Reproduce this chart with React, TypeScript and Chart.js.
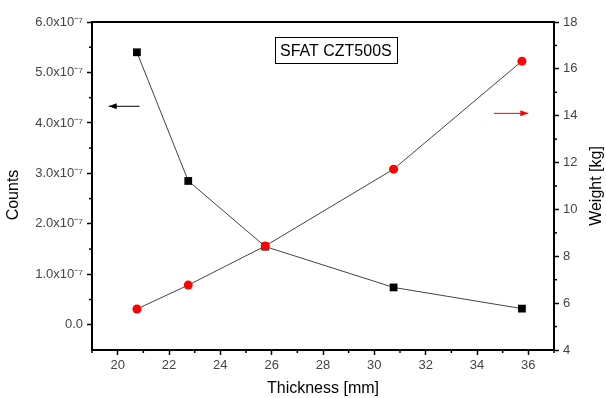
import React, { useEffect, useRef } from "react";
import { Chart, registerables } from "chart.js";

Chart.register(...registerables);

// ---- data ----
const thickness = [20.75, 22.75, 25.75, 30.75, 35.75];
const counts = [5.4e-7, 2.85e-7, 1.55e-7, 0.74e-7, 0.32e-7];
const weight = [5.75, 6.77, 8.44, 11.72, 16.33];

// ---- ticks ----
const xTicks = [20, 22, 24, 26, 28, 30, 32, 34, 36];
const xMinor = [19, 21, 23, 25, 27, 29, 31, 33, 35, 37];
const countTicks = [0, 1e-7, 2e-7, 3e-7, 4e-7, 5e-7, 6e-7];
const countTickLabels = ["0.0", "1.0x10⁻⁷", "2.0x10⁻⁷", "3.0x10⁻⁷", "4.0x10⁻⁷", "5.0x10⁻⁷", "6.0x10⁻⁷"];
const countMinor = [0.5e-7, 1.5e-7, 2.5e-7, 3.5e-7, 4.5e-7, 5.5e-7];
const weightTicks = [4, 6, 8, 10, 12, 14, 16, 18];
const weightMinor = [5, 7, 9, 11, 13, 15, 17];

// ---- text ----
const chartTitle = "SFAT CZT500S";
const xTitle = "Thickness [mm]";
const yLeftTitle = "Counts";
const yRightTitle = "Weight [kg]";

// ---- annotations (data units) ----
const leftArrow = { from: [20.85, 4.33e-7], to: [19.65, 4.33e-7] };
const rightArrow = { from: [34.65, 14.1], to: [36.0, 14.1] };
const titleBoxPos = [28.5, 5.44e-7];

const FONT = '"Liberation Sans", Arial, Helvetica, sans-serif';

const decorPlugin = {
  id: "decor",
  afterDraw(chart: any) {
    const ctx = chart.ctx as CanvasRenderingContext2D;
    const { left, right, top, bottom } = chart.chartArea;
    const xs = chart.scales.x;
    const yl = chart.scales.yCounts;
    const yr = chart.scales.yWeight;
    ctx.save();
    const line = (x1: number, y1: number, x2: number, y2: number) => {
      ctx.beginPath();
      ctx.moveTo(x1, y1);
      ctx.lineTo(x2, y2);
      ctx.stroke();
    };
    // top frame
    ctx.strokeStyle = "#000";
    ctx.lineWidth = 2;
    line(left - 1, top, right + 1, top);
    // minor ticks
    ctx.lineWidth = 1.5;
    xMinor.forEach((v) => {
      const p = xs.getPixelForValue(v);
      line(p, bottom, p, bottom + 3);
    });
    countMinor.forEach((v) => {
      const p = yl.getPixelForValue(v);
      line(left, p, left - 3, p);
    });
    weightMinor.forEach((v) => {
      const p = yr.getPixelForValue(v);
      line(right, p, right + 3, p);
    });

    // arrows
    const arrow = (x1: number, y1: number, x2: number, y2: number, color: string) => {
      ctx.strokeStyle = color;
      ctx.fillStyle = color;
      ctx.lineWidth = 1;
      line(x1, y1, x2, y2);
      const dir = Math.sign(x2 - x1);
      ctx.beginPath();
      ctx.moveTo(x2, y2);
      ctx.lineTo(x2 - dir * 8, y2 - 3);
      ctx.lineTo(x2 - dir * 8, y2 + 3);
      ctx.closePath();
      ctx.fill();
    };
    arrow(
      xs.getPixelForValue(leftArrow.from[0]), yl.getPixelForValue(leftArrow.from[1]),
      xs.getPixelForValue(leftArrow.to[0]), yl.getPixelForValue(leftArrow.to[1]), "#000"
    );
    arrow(
      xs.getPixelForValue(rightArrow.from[0]), yr.getPixelForValue(rightArrow.from[1]),
      xs.getPixelForValue(rightArrow.to[0]), yr.getPixelForValue(rightArrow.to[1]), "#ff0000"
    );

    // title box
    ctx.font = `16px ${FONT}`;
    ctx.textAlign = "center";
    ctx.textBaseline = "middle";
    ctx.fillStyle = "#000";
    const cx = xs.getPixelForValue(titleBoxPos[0]);
    const cy = yl.getPixelForValue(titleBoxPos[1]);
    const w = ctx.measureText(chartTitle).width + 10;
    const h = 26;
    ctx.strokeStyle = "#000";
    ctx.lineWidth = 1;
    ctx.strokeRect(Math.round(cx - w / 2) + 0.5, Math.round(cy - h / 2) + 0.5, Math.round(w), h);
    ctx.fillText(chartTitle, cx, cy + 1);

    // axis titles
    ctx.font = `16px ${FONT}`;
    ctx.fillText(xTitle, (left + right) / 2, 389);
    ctx.save();
    ctx.translate(14, 195);
    ctx.rotate(-Math.PI / 2);
    ctx.fillText(yLeftTitle, 0, 0);
    ctx.restore();
    ctx.save();
    ctx.translate(597, 186);
    ctx.rotate(-Math.PI / 2);
    ctx.fillText(yRightTitle, 0, 0);
    ctx.restore();
    ctx.restore();
  },
};

export default function App() {
  const ref = useRef<HTMLCanvasElement | null>(null);
  useEffect(() => {
    document.body.style.margin = "0";
    const canvas = ref.current!;
    const tickFont = { family: FONT, size: 13 };
    const gridCommon = {
      drawOnChartArea: false,
      drawTicks: true,
      tickLength: 5,
      tickColor: "#000",
      tickWidth: 1.5,
    };
    const chart = new Chart(canvas, {
      type: "scatter",
      data: {
        datasets: [
          {
            label: "Weight",
            data: thickness.map((t, i) => ({ x: t, y: weight[i] })),
            yAxisID: "yWeight",
            showLine: true,
            borderColor: "#444",
            borderWidth: 1,
            pointStyle: "circle",
            pointRadius: 4.5,
            pointBackgroundColor: "#ff0000",
            pointBorderColor: "#ff0000",
            pointBorderWidth: 0,
          },
          {
            label: "Counts",
            data: thickness.map((t, i) => ({ x: t, y: counts[i] })),
            yAxisID: "yCounts",
            showLine: true,
            borderColor: "#444",
            borderWidth: 1,
            pointStyle: "rect",
            pointRadius: 5.5,
            pointBackgroundColor: "#000",
            pointBorderColor: "#000",
            pointBorderWidth: 0,
          },
        ],
      },
      options: {
        animation: false,
        responsive: false,
        layout: { padding: { top: 22, left: 0, right: 0, bottom: 0 } },
        plugins: { legend: { display: false }, tooltip: { enabled: false } },
        scales: {
          x: {
            type: "linear",
            position: "bottom",
            min: 19,
            max: 37,
            afterBuildTicks: (s: any) => {
              s.ticks = xTicks.map((v) => ({ value: v }));
            },
            afterFit: (s: any) => {
              s.height = 48;
            },
            ticks: { font: tickFont, color: "#444", padding: 3, maxRotation: 0, autoSkip: false },
            grid: gridCommon,
            border: { display: true, color: "#000", width: 2 },
          },
          yCounts: {
            type: "linear",
            position: "left",
            min: -0.5e-7,
            max: 6e-7,
            afterBuildTicks: (s: any) => {
              s.ticks = countTicks.map((v) => ({ value: v }));
            },
            afterFit: (s: any) => {
              s.width = 92;
            },
            ticks: {
              font: tickFont,
              color: "#444",
              padding: 4,
              autoSkip: false,
              callback: (_v: any, i: number) => countTickLabels[i],
            },
            grid: gridCommon,
            border: { display: true, color: "#000", width: 2 },
          },
          yWeight: {
            type: "linear",
            position: "right",
            min: 4,
            max: 18,
            afterBuildTicks: (s: any) => {
              s.ticks = weightTicks.map((v) => ({ value: v }));
            },
            afterFit: (s: any) => {
              s.width = 52;
            },
            ticks: { font: tickFont, color: "#444", padding: 4, autoSkip: false },
            grid: gridCommon,
            border: { display: true, color: "#000", width: 2 },
          },
        },
      },
      plugins: [decorPlugin],
    } as any);
    return () => chart.destroy();
  }, []);
  return (
    <div style={{ position: "absolute", left: 0, top: 0, width: 606, height: 398, background: "#fff" }}>
      <canvas ref={ref} width={606} height={398} style={{ display: "block" }} />
    </div>
  );
}
